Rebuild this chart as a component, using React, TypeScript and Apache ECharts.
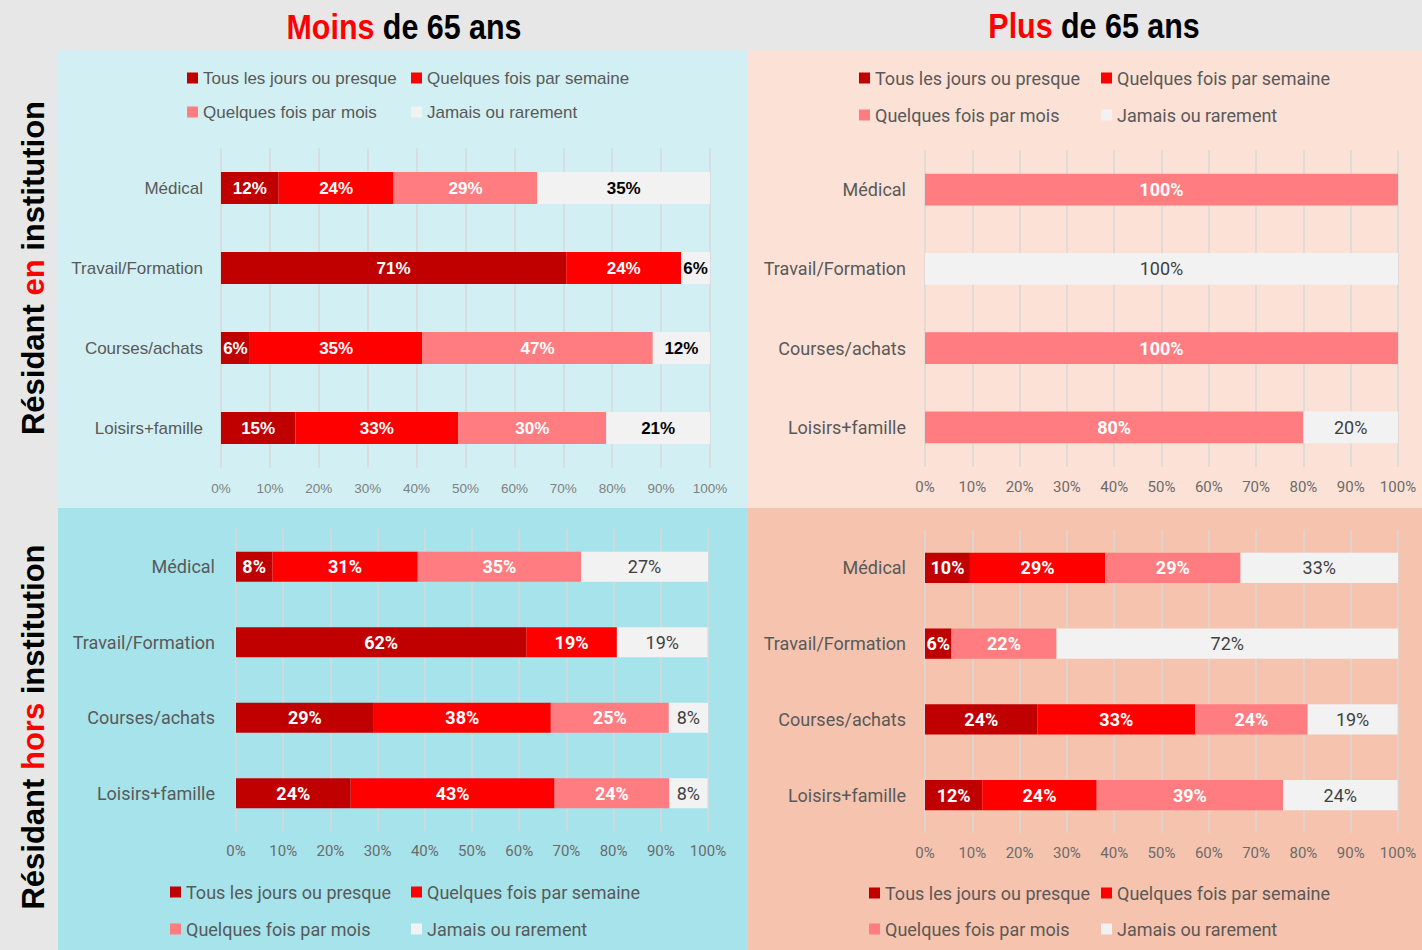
import React, { useEffect, useRef } from 'react';
import * as echarts from 'echarts';

const categories = ['Médical', 'Travail/Formation', 'Courses/achats', 'Loisirs+famille'];
const frequencyNames = ['Tous les jours ou presque', 'Quelques fois par semaine', 'Quelques fois par mois', 'Jamais ou rarement'];
const frequencyColors = ['#c00000', '#ff0000', '#ff7c80', '#f2f2f2'];

// Moins de 65 ans — résidant en institution (%)
const moinsEnDaily = [11.8, 70.6, 5.9, 15.2];
const moinsEnWeekly = [23.5, 23.5, 35.3, 33.3];
const moinsEnMonthly = [29.4, 0, 47.1, 30.3];
const moinsEnNever = [35.3, 5.9, 11.8, 21.2];

// Plus de 65 ans — résidant en institution (%)
const plusEnDaily = [0, 0, 0, 0];
const plusEnWeekly = [0, 0, 0, 0];
const plusEnMonthly = [100, 0, 100, 80];
const plusEnNever = [0, 100, 0, 20];

// Moins de 65 ans — résidant hors institution (%)
const moinsHorsDaily = [7.7, 61.5, 29.2, 24.3];
const moinsHorsWeekly = [30.8, 19.2, 37.5, 43.2];
const moinsHorsMonthly = [34.6, 0, 25.0, 24.3];
const moinsHorsNever = [26.9, 19.2, 8.3, 8.1];

// Plus de 65 ans — résidant hors institution (%)
const plusHorsDaily = [9.5, 5.6, 23.8, 12.1];
const plusHorsWeekly = [28.6, 0, 33.3, 24.2];
const plusHorsMonthly = [28.6, 22.2, 23.8, 39.4];
const plusHorsNever = [33.3, 72.2, 19.0, 24.2];

const ARIAL = "'Liberation Sans', Arial, sans-serif";
const SANS = "Roboto, 'Liberation Sans', sans-serif";

const panels = [
  {
    data: [moinsEnDaily, moinsEnWeekly, moinsEnMonthly, moinsEnNever],
    grid: { left: 221, top: 148, width: 489, height: 320 },
    font: ARIAL, catSize: 17, axisSize: 13.5, labelSize: 17, legendSize: 17,
    axisColor: '#808080', neverColor: '#000000', neverWeight: 'bold',
    cols: [187, 411], rows: [78, 112], yMargin: 18, xMargin: 13,
  },
  {
    data: [plusEnDaily, plusEnWeekly, plusEnMonthly, plusEnNever],
    grid: { left: 925, top: 150, width: 473, height: 317 },
    font: SANS, catSize: 18, axisSize: 15, labelSize: 18, legendSize: 18,
    axisColor: '#6b6b6b', neverColor: '#404040', neverWeight: 'normal',
    cols: [859, 1101], rows: [78, 115], yMargin: 19, xMargin: 12,
  },
  {
    data: [moinsHorsDaily, moinsHorsWeekly, moinsHorsMonthly, moinsHorsNever],
    grid: { left: 236, top: 529, width: 472, height: 302 },
    font: SANS, catSize: 18, axisSize: 15, labelSize: 18, legendSize: 18,
    axisColor: '#6b6b6b', neverColor: '#404040', neverWeight: 'normal',
    cols: [170, 411], rows: [892, 929], yMargin: 21, xMargin: 12,
  },
  {
    data: [plusHorsDaily, plusHorsWeekly, plusHorsMonthly, plusHorsNever],
    grid: { left: 925, top: 530, width: 473, height: 303 },
    font: SANS, catSize: 18, axisSize: 15, labelSize: 18, legendSize: 18,
    axisColor: '#6b6b6b', neverColor: '#404040', neverWeight: 'normal',
    cols: [869, 1101], rows: [893, 929], yMargin: 19, xMargin: 12,
  },
];

function titleText(x: number, y: number, red: string, rest: string) {
  return {
    type: 'text', x, y, z: 10, scaleX: 0.845,
    style: {
      text: '{r|' + red + '}' + rest, fill: '#000000', fontSize: 36, fontWeight: 'bold', fontFamily: ARIAL,
      align: 'center', verticalAlign: 'middle',
      rich: { r: { fill: '#ff0000', fontSize: 36, fontWeight: 'bold', fontFamily: ARIAL } },
    },
  };
}

function sideText(y: number, red: string) {
  return {
    type: 'text', x: 33, y, rotation: Math.PI / 2, z: 10,
    style: {
      text: 'Résidant {r|' + red + '} institution', fill: '#000000', fontSize: 31, fontWeight: 'bold',
      fontFamily: ARIAL, align: 'center', verticalAlign: 'middle',
      rich: { r: { fill: '#ff0000', fontSize: 31, fontWeight: 'bold', fontFamily: ARIAL } },
    },
  };
}

function buildOption() {
  const grid: any[] = [];
  const xAxis: any[] = [];
  const yAxis: any[] = [];
  const series: any[] = [];
  const legend: any[] = [];

  panels.forEach((p, i) => {
    grid.push({ ...p.grid, containLabel: false });
    xAxis.push({
      gridIndex: i, type: 'value', min: 0, max: 100, interval: 10,
      axisLine: { show: false }, axisTick: { show: false },
      splitLine: { show: true, lineStyle: { color: '#d9d9d9', width: 1.5 } },
      axisLabel: { formatter: '{value}%', color: p.axisColor, fontSize: p.axisSize, fontFamily: p.font, margin: p.xMargin },
    });
    yAxis.push({
      gridIndex: i, type: 'category', inverse: true, data: categories,
      axisLine: { show: false }, axisTick: { show: false }, splitLine: { show: false },
      axisLabel: { color: '#595959', fontSize: p.catSize, fontFamily: p.font, margin: p.yMargin },
    });
    p.data.forEach((values, k) => {
      series.push({
        type: 'bar', name: frequencyNames[k], xAxisIndex: i, yAxisIndex: i,
        stack: 'panel' + i, barWidth: '40%', data: values,
        itemStyle: { color: frequencyColors[k] },
        emphasis: { disabled: true },
        label: {
          show: true, position: 'inside',
          formatter: (prm: any) => (prm.value > 0 ? Math.round(prm.value) + '%' : ''),
          color: k === 3 ? p.neverColor : '#ffffff',
          fontWeight: k === 3 ? p.neverWeight : 'bold',
          fontSize: p.labelSize, fontFamily: p.font,
        },
      });
      legend.push({
        data: [frequencyNames[k]], left: p.cols[k % 2], top: p.rows[Math.floor(k / 2)] - 10,
        padding: 0, icon: 'rect', itemWidth: 11, itemHeight: 11, itemGap: 0, selectedMode: false,
        textStyle: { color: '#595959', fontSize: p.legendSize, fontFamily: p.font, lineHeight: 20 },
      });
    });
  });

  const graphic: any[] = [
    { type: 'rect', z: -10, shape: { x: 58, y: 50, width: 690, height: 458 }, style: { fill: '#d2f0f3' } },
    { type: 'rect', z: -10, shape: { x: 748, y: 50, width: 674, height: 458 }, style: { fill: '#fce1d6' } },
    { type: 'rect', z: -10, shape: { x: 58, y: 508, width: 690, height: 442 }, style: { fill: '#a6e3ea' } },
    { type: 'rect', z: -10, shape: { x: 748, y: 508, width: 674, height: 442 }, style: { fill: '#f6c3ae' } },
    titleText(404, 27, 'Moins', ' de 65 ans'),
    titleText(1094, 26, 'Plus', ' de 65 ans'),
    sideText(268, 'en'),
    sideText(727, 'hors'),
  ];

  return {
    animation: false,
    backgroundColor: '#e7e7e7',
    grid, xAxis, yAxis, series, legend, graphic,
  };
}

export default function App() {
  const ref = useRef<HTMLDivElement>(null);
  useEffect(() => {
    const chart = echarts.init(ref.current as HTMLDivElement, null, { renderer: 'svg' });
    chart.setOption(buildOption() as any);
    return () => chart.dispose();
  }, []);
  return <div ref={ref} style={{ position: 'fixed', left: 0, top: 0, width: 1422, height: 950 }} />;
}
